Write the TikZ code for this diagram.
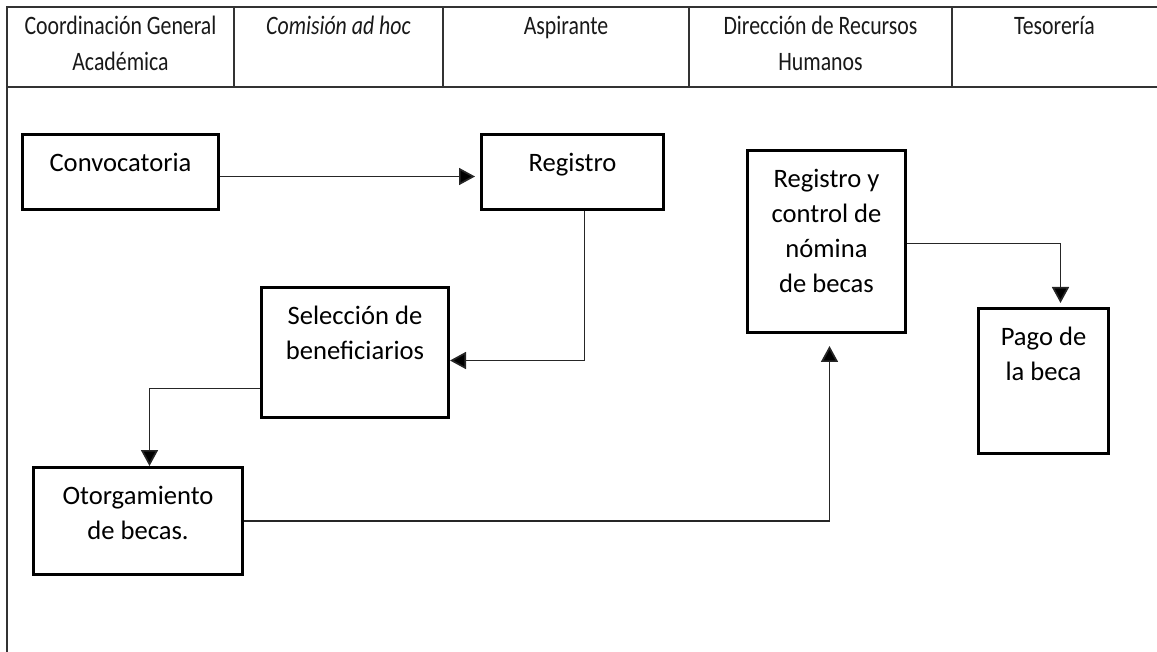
\documentclass[tikz,border=0pt]{standalone}
\usepackage{fontspec}
\setmainfont{Carlito}
\usepackage{tikz}
\usetikzlibrary{arrows.meta}

\begin{document}
\begin{tikzpicture}[x=0.5pt,y=-0.5pt,
  encabezado/.style={anchor=base,inner sep=0pt,align=center,text=black!90,
    font=\fontsize{13.3pt}{18pt}\selectfont\addfontfeature{FakeStretch=0.82}},
  caja/.style n args={3}{draw,line width=1.5pt,inner sep=0pt,anchor=north west,align=center,
    minimum width=#1,text height=#2,text depth=#3,font=\fontsize{13.3pt}{17.5pt}\selectfont},
  linea/.style={draw=black!80,line width=1pt},
  flecha/.style={draw=black!85,line width=0.85pt,-{Triangle[length=8pt,width=8.5pt,fill=black]}}]
\useasboundingbox (0,0) rectangle (1157,652);
\draw[linea] (1157,7) -- (7,7) -- (7,652);
\draw[linea] (7,87) -- (1157,87);
\foreach \x in {234,443,689,952}
  \draw[linea] (\x,7) -- (\x,87);
\node[encabezado] (cga) at (120.5,71) {Coordinación General\\Académica};
\node[encabezado] (com) at (338.5,35) {\itshape Comisión ad hoc};
\node[encabezado] (asp) at (566,35) {Aspirante};
\node[encabezado] (drh) at (820.5,71) {Dirección de Recursos\\Humanos};
\node[encabezado] (tes) at (1054.5,35) {Tesorería};

\node[caja={98pt}{18.5pt}{19pt}] (conv) at (21,133) {Convocatoria};
\node[caja={91pt}{18.5pt}{19pt}] (reg) at (480,133) {Registro};
\node[caja={93.5pt}{36pt}{29pt}] (sel) at (260,286) {Selección de\\beneficiarios};
\node[caja={104.5pt}{36pt}{17.5pt}] (otor) at (32,466) {Otorgamiento\\de becas.};
\node[caja={79pt}{71pt}{20pt}] (nom) at (746,149) {Registro y\\control de\\nómina\\de becas};
\node[caja={65pt}{36pt}{36.5pt}] (pago) at (977,307) {Pago de\\la beca};

\draw[flecha,shorten >=2.5pt] ([yshift=-2.25pt]conv.east) -- ([yshift=-2.25pt]reg.west);
\draw[flecha] ([xshift=6pt]reg.south) |- ([yshift=-4pt]sel.east);
\draw[flecha] ([yshift=-18pt]sel.west) -| ([xshift=5.75pt]otor.north);
\draw[flecha,shorten >=6pt] (otor.east) -| ([xshift=1.5pt]nom.south);
\draw[flecha,shorten >=2pt] ([yshift=-1pt]nom.east) -| ([xshift=8.5pt]pago.north);
\end{tikzpicture}
\end{document}
